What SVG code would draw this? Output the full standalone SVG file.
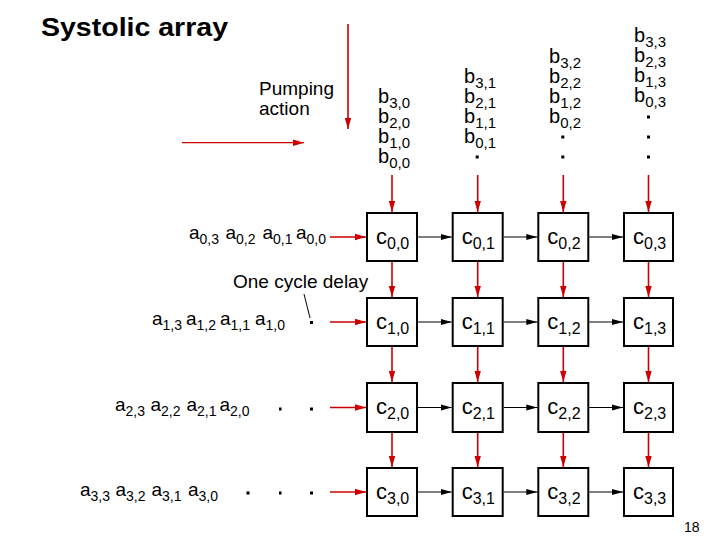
<svg xmlns="http://www.w3.org/2000/svg" width="720" height="540" viewBox="0 0 720 540">
<style>
text{font-family:"Liberation Sans",Arial,sans-serif;fill:#000}
.t{font-size:19px}
.s{font-size:14px}
.b{font-size:20px}
.bs{font-size:15px}
.c{font-size:22px}
.cs{font-size:16px}
.box{fill:#fff;stroke:#000;stroke-width:2}
.red{stroke:#cc0000;stroke-width:1.6;fill:none}
.thin{stroke-width:1.2}
.blk{stroke:#000;stroke-width:1.1;fill:none}
.dot{fill:#000}
</style>
<defs>
<marker id="ar" markerUnits="userSpaceOnUse" markerWidth="12" markerHeight="8" refX="11" refY="4" orient="auto"><path d="M0,0.8 L11,4 L0,7.2 Z" fill="#cc0000"/></marker>
<marker id="ab" markerUnits="userSpaceOnUse" markerWidth="12" markerHeight="8" refX="11" refY="4" orient="auto"><path d="M0,1 L11,4 L0,7 Z" fill="#000"/></marker>
</defs>
<rect width="720" height="540" fill="#fff"/>
<text x="41" y="36" font-size="26" font-weight="bold" textLength="187" lengthAdjust="spacingAndGlyphs">Systolic array</text>
<g id="pumping">
<text class="t" x="259" y="95">Pumping</text>
<text class="t" x="259" y="115">action</text>
</g>
<g id="b-inputs">
<text class="b" x="378" y="103">b<tspan class="bs" dy="5">3,0</tspan></text>
<text class="b" x="378" y="123">b<tspan class="bs" dy="5">2,0</tspan></text>
<text class="b" x="378" y="143">b<tspan class="bs" dy="5">1,0</tspan></text>
<text class="b" x="378" y="163">b<tspan class="bs" dy="5">0,0</tspan></text>
<text class="b" x="464" y="83">b<tspan class="bs" dy="5">3,1</tspan></text>
<text class="b" x="464" y="103">b<tspan class="bs" dy="5">2,1</tspan></text>
<text class="b" x="464" y="123">b<tspan class="bs" dy="5">1,1</tspan></text>
<text class="b" x="464" y="143">b<tspan class="bs" dy="5">0,1</tspan></text>
<text class="b" x="549" y="63">b<tspan class="bs" dy="5">3,2</tspan></text>
<text class="b" x="549" y="83">b<tspan class="bs" dy="5">2,2</tspan></text>
<text class="b" x="549" y="103">b<tspan class="bs" dy="5">1,2</tspan></text>
<text class="b" x="549" y="123">b<tspan class="bs" dy="5">0,2</tspan></text>
<text class="b" x="634" y="42">b<tspan class="bs" dy="5">3,3</tspan></text>
<text class="b" x="634" y="62">b<tspan class="bs" dy="5">2,3</tspan></text>
<text class="b" x="634" y="82">b<tspan class="bs" dy="5">1,3</tspan></text>
<text class="b" x="634" y="102">b<tspan class="bs" dy="5">0,3</tspan></text>
<rect class="dot" x="475.7" y="155.5" width="3" height="3"/>
<rect class="dot" x="561.3" y="135.5" width="3" height="3"/>
<rect class="dot" x="561.3" y="155.5" width="3" height="3"/>
<rect class="dot" x="647" y="115.5" width="3" height="3"/>
<rect class="dot" x="647" y="135.5" width="3" height="3"/>
<rect class="dot" x="647" y="155.5" width="3" height="3"/>
</g>
<g id="a-inputs">
<text class="t" x="189" y="239">a<tspan class="s" dy="5">0,3</tspan></text>
<text class="t" x="225.5" y="239">a<tspan class="s" dy="5">0,2</tspan></text>
<text class="t" x="262.5" y="239">a<tspan class="s" dy="5">0,1</tspan></text>
<text class="t" x="296" y="239">a<tspan class="s" dy="5">0,0</tspan></text>
<text class="t" x="152" y="325">a<tspan class="s" dy="5">1,3</tspan></text>
<text class="t" x="186" y="325">a<tspan class="s" dy="5">1,2</tspan></text>
<text class="t" x="220" y="325">a<tspan class="s" dy="5">1,1</tspan></text>
<text class="t" x="255" y="325">a<tspan class="s" dy="5">1,0</tspan></text>
<text class="t" x="115" y="411">a<tspan class="s" dy="5">2,3</tspan></text>
<text class="t" x="150.5" y="411">a<tspan class="s" dy="5">2,2</tspan></text>
<text class="t" x="186.5" y="411">a<tspan class="s" dy="5">2,1</tspan></text>
<text class="t" x="219.5" y="411">a<tspan class="s" dy="5">2,0</tspan></text>
<text class="t" x="80" y="496">a<tspan class="s" dy="5">3,3</tspan></text>
<text class="t" x="115.5" y="496">a<tspan class="s" dy="5">3,2</tspan></text>
<text class="t" x="151.5" y="496">a<tspan class="s" dy="5">3,1</tspan></text>
<text class="t" x="188" y="496">a<tspan class="s" dy="5">3,0</tspan></text>
<rect class="dot" x="310" y="321" width="3" height="3"/>
<rect class="dot" x="279" y="407.5" width="2.5" height="3"/>
<rect class="dot" x="310" y="407.5" width="3" height="3"/>
<rect class="dot" x="246.5" y="491.5" width="3" height="3"/>
<rect class="dot" x="279" y="491.5" width="2.5" height="3"/>
<rect class="dot" x="310" y="491.5" width="3" height="3"/>
</g>
<g id="delay-note">
<text class="t" x="233" y="288">One cycle delay</text>
<line x1="304" y1="294" x2="310" y2="318" stroke="#000" stroke-width="1"/>
</g>
<g id="nodes">
<g id="c00"><rect class="box" x="367" y="213" width="50" height="48"/><text class="c" x="376" y="244">c<tspan class="cs" dy="5">0,0</tspan></text></g>
<g id="c01"><rect class="box" x="452.7" y="213" width="50" height="48"/><text class="c" x="461.7" y="244">c<tspan class="cs" dy="5">0,1</tspan></text></g>
<g id="c02"><rect class="box" x="538.3" y="213" width="50" height="48"/><text class="c" x="547.3" y="244">c<tspan class="cs" dy="5">0,2</tspan></text></g>
<g id="c03"><rect class="box" x="624" y="213" width="49" height="48"/><text class="c" x="633" y="244">c<tspan class="cs" dy="5">0,3</tspan></text></g>
<g id="c10"><rect class="box" x="367" y="298" width="50" height="48"/><text class="c" x="376" y="329">c<tspan class="cs" dy="5">1,0</tspan></text></g>
<g id="c11"><rect class="box" x="452.7" y="298" width="50" height="48"/><text class="c" x="461.7" y="329">c<tspan class="cs" dy="5">1,1</tspan></text></g>
<g id="c12"><rect class="box" x="538.3" y="298" width="50" height="48"/><text class="c" x="547.3" y="329">c<tspan class="cs" dy="5">1,2</tspan></text></g>
<g id="c13"><rect class="box" x="624" y="298" width="49" height="48"/><text class="c" x="633" y="329">c<tspan class="cs" dy="5">1,3</tspan></text></g>
<g id="c20"><rect class="box" x="367" y="383" width="50" height="49"/><text class="c" x="376" y="414">c<tspan class="cs" dy="5">2,0</tspan></text></g>
<g id="c21"><rect class="box" x="452.7" y="383" width="50" height="49"/><text class="c" x="461.7" y="414">c<tspan class="cs" dy="5">2,1</tspan></text></g>
<g id="c22"><rect class="box" x="538.3" y="383" width="50" height="49"/><text class="c" x="547.3" y="414">c<tspan class="cs" dy="5">2,2</tspan></text></g>
<g id="c23"><rect class="box" x="624" y="383" width="49" height="49"/><text class="c" x="633" y="414">c<tspan class="cs" dy="5">2,3</tspan></text></g>
<g id="c30"><rect class="box" x="367" y="468" width="50" height="48"/><text class="c" x="376" y="499">c<tspan class="cs" dy="5">3,0</tspan></text></g>
<g id="c31"><rect class="box" x="452.7" y="468" width="50" height="48"/><text class="c" x="461.7" y="499">c<tspan class="cs" dy="5">3,1</tspan></text></g>
<g id="c32"><rect class="box" x="538.3" y="468" width="50" height="48"/><text class="c" x="547.3" y="499">c<tspan class="cs" dy="5">3,2</tspan></text></g>
<g id="c33"><rect class="box" x="624" y="468" width="49" height="48"/><text class="c" x="633" y="499">c<tspan class="cs" dy="5">3,3</tspan></text></g>
</g>
<g id="connectors">
<line class="red" x1="348" y1="24" x2="348" y2="129" marker-end="url(#ar)"/>
<line class="red thin" x1="182" y1="142.7" x2="304" y2="142.7" marker-end="url(#ar)"/>
<line class="red" x1="392" y1="175" x2="392" y2="212" marker-end="url(#ar)"/>
<line class="red" x1="477.7" y1="175" x2="477.7" y2="212" marker-end="url(#ar)"/>
<line class="red" x1="563.3" y1="175" x2="563.3" y2="212" marker-end="url(#ar)"/>
<line class="red" x1="648.5" y1="175" x2="648.5" y2="212" marker-end="url(#ar)"/>
<line class="red" x1="330" y1="237" x2="366" y2="237" marker-end="url(#ar)"/>
<line class="red" x1="330" y1="322" x2="366" y2="322" marker-end="url(#ar)"/>
<line class="red" x1="330" y1="407.5" x2="366" y2="407.5" marker-end="url(#ar)"/>
<line class="red" x1="330" y1="492" x2="366" y2="492" marker-end="url(#ar)"/>
<line class="red" x1="392" y1="262" x2="392" y2="297" marker-end="url(#ar)"/>
<line class="red" x1="477.7" y1="262" x2="477.7" y2="297" marker-end="url(#ar)"/>
<line class="red" x1="563.3" y1="262" x2="563.3" y2="297" marker-end="url(#ar)"/>
<line class="red" x1="648.5" y1="262" x2="648.5" y2="297" marker-end="url(#ar)"/>
<line class="red" x1="392" y1="347" x2="392" y2="382" marker-end="url(#ar)"/>
<line class="red" x1="477.7" y1="347" x2="477.7" y2="382" marker-end="url(#ar)"/>
<line class="red" x1="563.3" y1="347" x2="563.3" y2="382" marker-end="url(#ar)"/>
<line class="red" x1="648.5" y1="347" x2="648.5" y2="382" marker-end="url(#ar)"/>
<line class="red" x1="392" y1="433" x2="392" y2="467" marker-end="url(#ar)"/>
<line class="red" x1="477.7" y1="433" x2="477.7" y2="467" marker-end="url(#ar)"/>
<line class="red" x1="563.3" y1="433" x2="563.3" y2="467" marker-end="url(#ar)"/>
<line class="red" x1="648.5" y1="433" x2="648.5" y2="467" marker-end="url(#ar)"/>
<line class="blk" x1="418" y1="237" x2="451.7" y2="237" marker-end="url(#ab)"/>
<line class="blk" x1="503.7" y1="237" x2="537.3" y2="237" marker-end="url(#ab)"/>
<line class="blk" x1="589.3" y1="237" x2="623" y2="237" marker-end="url(#ab)"/>
<line class="blk" x1="418" y1="322" x2="451.7" y2="322" marker-end="url(#ab)"/>
<line class="blk" x1="503.7" y1="322" x2="537.3" y2="322" marker-end="url(#ab)"/>
<line class="blk" x1="589.3" y1="322" x2="623" y2="322" marker-end="url(#ab)"/>
<line class="blk" x1="418" y1="407.5" x2="451.7" y2="407.5" marker-end="url(#ab)"/>
<line class="blk" x1="503.7" y1="407.5" x2="537.3" y2="407.5" marker-end="url(#ab)"/>
<line class="blk" x1="589.3" y1="407.5" x2="623" y2="407.5" marker-end="url(#ab)"/>
<line class="blk" x1="418" y1="492" x2="451.7" y2="492" marker-end="url(#ab)"/>
<line class="blk" x1="503.7" y1="492" x2="537.3" y2="492" marker-end="url(#ab)"/>
<line class="blk" x1="589.3" y1="492" x2="623" y2="492" marker-end="url(#ab)"/>
</g>
<text x="684" y="532" font-size="14">18</text>
</svg>
